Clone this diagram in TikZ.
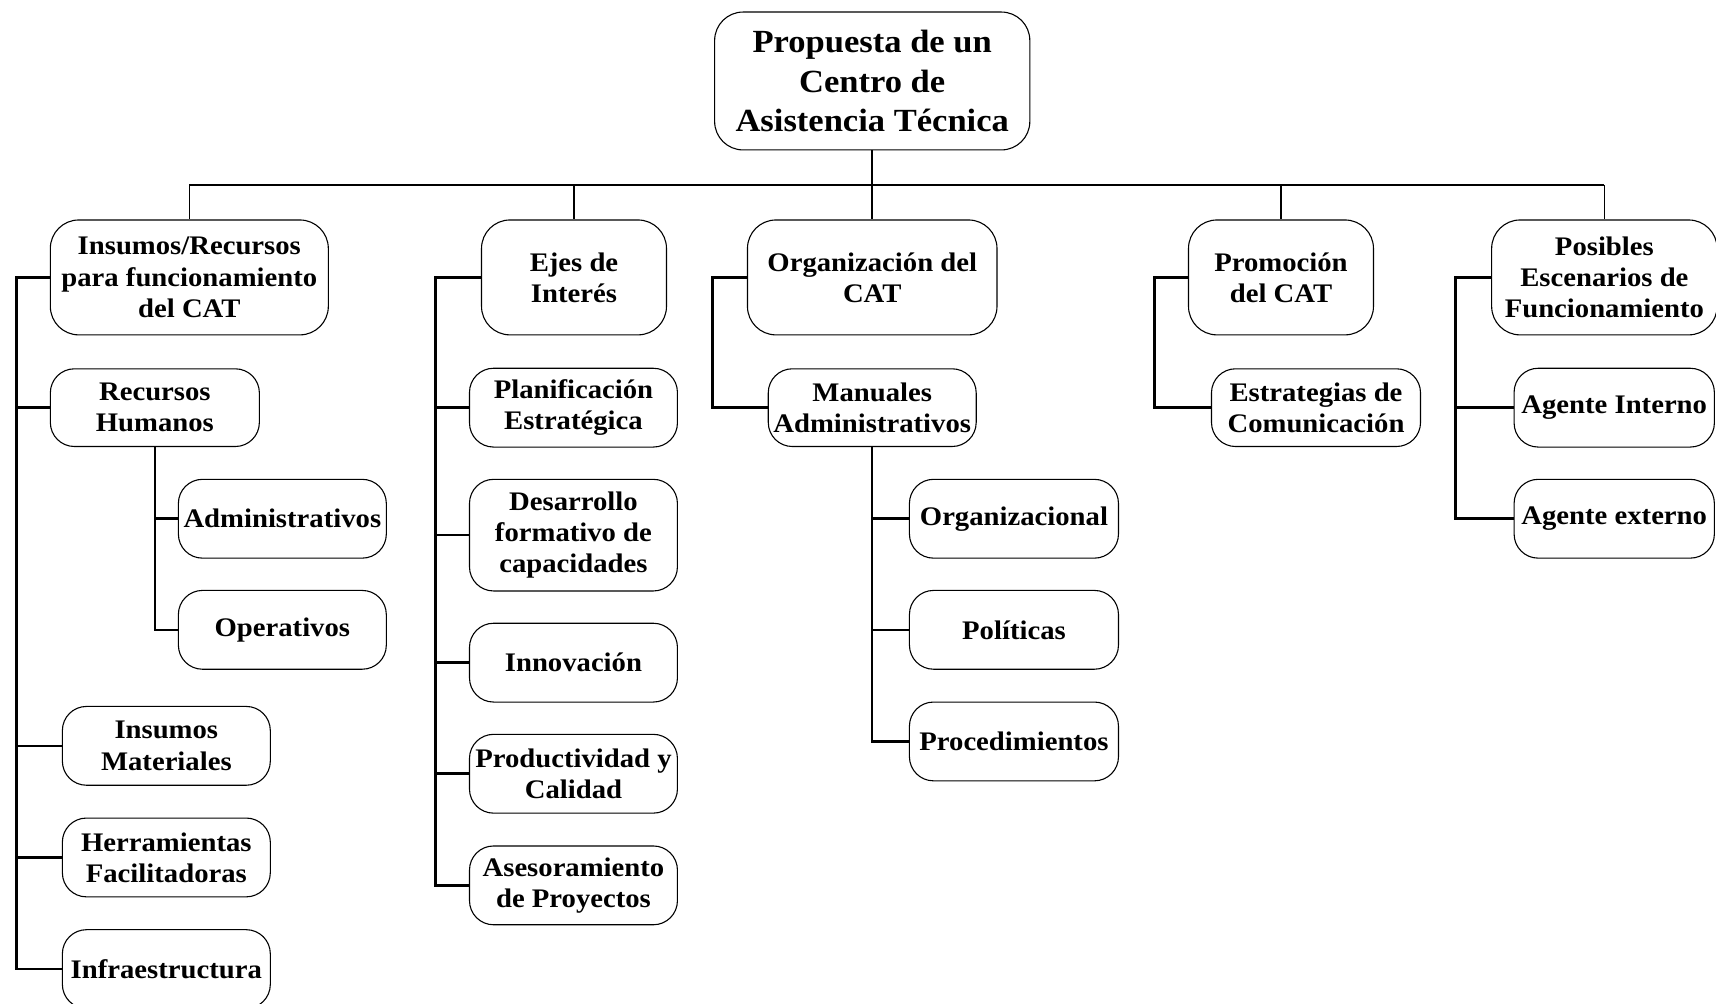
\documentclass[tikz,border=0pt]{standalone}
\usepackage{fontspec}
\newfontfamily\boxfont{Liberation Serif}[FakeStretch=1.07]
\begin{document}
\begin{tikzpicture}[x=1pt,y=-1pt,
  card/.style={draw=black, line width=1pt, rounded corners=22pt, align=center,
    inner sep=0pt, fill=white,
    font=\boxfont\bfseries\fontsize{24.5}{28.5}\selectfont},
  bigcard/.style={card, rounded corners=26pt},
  bus/.style={line width=2.3pt},
  drop/.style={line width=1.4pt},
  branch/.style={line width=2.3pt},
  sz/.style 2 args={minimum width=#1pt, minimum height=#2pt}]
\useasboundingbox (0,0) rectangle (1568,917);

% head node
\node[bigcard, sz={288}{126}, font=\boxfont\bfseries\fontsize{29.5}{36}\selectfont]
  (root) at (797,74) {Propuesta de un\\Centro de\\Asistencia Técnica};

% first level
\node[bigcard, sz={254}{105}] (ins) at (173,253.5) {Insumos/Recursos\\para funcionamiento\\del CAT};
\node[bigcard, sz={169}{105}] (ejes) at (524.5,253.5) {Ejes de\\Interés};
\node[bigcard, sz={228}{105}] (org) at (797,253.5) {Organización del\\CAT};
\node[bigcard, sz={169}{105}] (prom) at (1170.5,253.5) {Promoción\\del CAT};
\node[bigcard, sz={206}{105}] (esc) at (1466,253.5) {Posibles\\Escenarios de\\Funcionamiento};

% resources branch
\node[card, sz={191}{71}] (rh) at (141.5,372.5) {Recursos\\Humanos};
\node[card, sz={190}{72}] (adm) at (258,474) {Administrativos};
\node[card, sz={190}{72}] (ope) at (258,575.5) {Operativos};
\node[card, sz={190}{72}] (mat) at (152,681.5) {Insumos\\Materiales};
\node[card, sz={190}{72}] (her) at (152,783.5) {Herramientas\\Facilitadoras};
\node[card, sz={190}{72}] (inf) at (152,885.5) {Infraestructura};

% axes branch
\node[card, sz={190}{72}] (plan) at (524,372.5) {Planificación\\Estratégica};
\node[card, sz={190}{102}] (des) at (524,489) {Desarrollo\\formativo de\\capacidades};
\node[card, sz={190}{72}] (inn) at (524,605.5) {Innovación};
\node[card, sz={190}{72}] (prod) at (524,707) {Productividad y\\Calidad};
\node[card, sz={190}{72}] (ase) at (524,809) {Asesoramiento\\de Proyectos};

% organisation branch
\node[card, sz={190}{71}] (man) at (797,372.5) {Manuales\\Administrativos};
\node[card, sz={191}{72}] (orgz) at (926.5,474) {Organizacional};
\node[card, sz={191}{72}] (pol) at (926.5,575.5) {Políticas};
\node[card, sz={191}{72}] (proc) at (926.5,677.5) {Procedimientos};

% promotion branch
\node[card, sz={191}{71}] (estr) at (1202.5,372.5) {Estrategias de\\Comunicación};

% scenarios branch
\node[card, sz={183}{72}] (agi) at (1475,372.5) {Agente Interno};
\node[card, sz={183}{72}] (age) at (1475,474) {Agente externo};

% main bus
\coordinate (busy) at (0,169);
\draw[bus] (root.south) -- (root.south |- busy);
\draw[bus] (ins.north |- busy) -- (esc.north |- busy);
\foreach \n in {ins,ejes,org,prom,esc}
  \draw[drop] (\n.north |- busy) -- (\n.north);

% side spines
\coordinate (s1) at (15,253.5);
\draw[branch] (ins.west) -- (s1) |- (inf.west);
\foreach \n in {rh,mat,her}
  \draw[branch] (s1 |- \n.west) -- (\n.west);
\draw[branch] (rh.south) |- (ope.west);
\draw[branch] (rh.south |- adm.west) -- (adm.west);

\coordinate (s2) at (398,253.5);
\draw[branch] (ejes.west) -- (s2) |- (ase.west);
\foreach \n in {plan,des,inn,prod}
  \draw[branch] (s2 |- \n.west) -- (\n.west);

\coordinate (s3) at (651,253.5);
\draw[branch] (org.west) -- (s3) |- (man.west);
\draw[branch] (man.south) |- (proc.west);
\foreach \n in {orgz,pol}
  \draw[branch] (man.south |- \n.west) -- (\n.west);

\coordinate (s4) at (1055,253.5);
\draw[branch] (prom.west) -- (s4) |- (estr.west);

\coordinate (s5) at (1330,253.5);
\draw[branch] (esc.west) -- (s5) |- (age.west);
\draw[branch] (s5 |- agi.west) -- (agi.west);
\end{tikzpicture}
\end{document}
